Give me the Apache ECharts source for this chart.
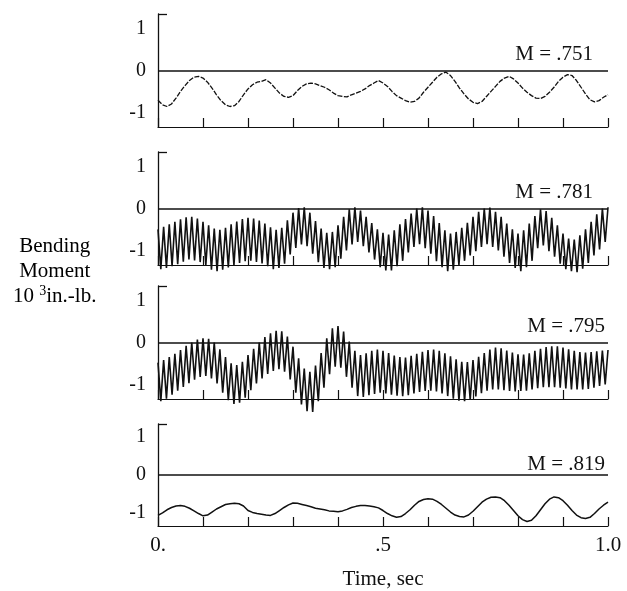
<!DOCTYPE html>
<html>
<head>
<meta charset="utf-8">
<script src="https://cdn.jsdelivr.net/npm/echarts@6/dist/echarts.min.js"></script>
<style>
  html, body { margin: 0; padding: 0; background: #fff; }
  #chart { width: 627px; height: 591px; }
</style>
</head>
<body>
<div id="chart"></div>
<script>
// Mach number of each run, top to bottom
var machLabels = ['M = .751', 'M = .781', 'M = .795', 'M = .819'];

// M = .751, sampled every 0.01 s
var m751 = [-0.71, -0.82, -0.86, -0.80, -0.66, -0.50, -0.36, -0.24, -0.16, -0.14,
    -0.18, -0.28, -0.42, -0.58, -0.72, -0.82, -0.86, -0.84, -0.74, -0.58,
    -0.44, -0.34, -0.28, -0.26, -0.22, -0.30, -0.42, -0.54, -0.62, -0.64,
    -0.60, -0.48, -0.38, -0.32, -0.30, -0.32, -0.36, -0.40, -0.46, -0.54,
    -0.60, -0.62, -0.63, -0.58, -0.54, -0.50, -0.44, -0.36, -0.30, -0.24,
    -0.30, -0.38, -0.50, -0.60, -0.66, -0.72, -0.76, -0.74, -0.66, -0.52,
    -0.40, -0.28, -0.16, -0.08, -0.04, -0.12, -0.26, -0.42, -0.56, -0.68,
    -0.76, -0.79, -0.74, -0.62, -0.50, -0.38, -0.26, -0.18, -0.14, -0.20,
    -0.30, -0.42, -0.52, -0.60, -0.66, -0.67, -0.62, -0.52, -0.40, -0.26,
    -0.16, -0.10, -0.12, -0.24, -0.40, -0.56, -0.70, -0.75, -0.72, -0.64,
    -0.58];

// M = .781, buzz tops (every 1/80 s from 0) and bottoms (halfway between)
var m781Tops = [-0.50, -0.44, -0.38, -0.32, -0.26, -0.21, -0.20, -0.24, -0.32, -0.40,
    -0.48, -0.51, -0.46, -0.38, -0.31, -0.25, -0.22, -0.24, -0.29, -0.36,
    -0.45, -0.51, -0.46, -0.28, -0.10, 0.01, 0.03, -0.10, -0.30, -0.48,
    -0.58, -0.56, -0.40, -0.20, -0.02, 0.03, -0.05, -0.20, -0.35, -0.50,
    -0.58, -0.62, -0.52, -0.38, -0.25, -0.12, 0.00, 0.03, -0.05, -0.18,
    -0.35, -0.52, -0.60, -0.56, -0.46, -0.34, -0.20, -0.08, 0.00, 0.02,
    -0.08, -0.20, -0.36, -0.50, -0.60, -0.52, -0.36, -0.18, -0.02, -0.06,
    -0.22, -0.40, -0.60, -0.72, -0.74, -0.64, -0.50, -0.32, -0.14, 0.00,
    0.03];
var m781Bottoms = [-1.45, -1.42, -1.38, -1.33, -1.27, -1.22, -1.24, -1.28, -1.35, -1.46,
    -1.50, -1.46, -1.41, -1.36, -1.30, -1.26, -1.25, -1.28, -1.31, -1.38,
    -1.45, -1.42, -1.32, -1.10, -0.94, -0.86, -0.90, -1.08, -1.28, -1.42,
    -1.45, -1.40, -1.20, -1.00, -0.86, -0.80, -0.90, -1.05, -1.22, -1.40,
    -1.48, -1.48, -1.38, -1.25, -1.05, -0.92, -0.85, -0.95, -1.08, -1.26,
    -1.40, -1.50, -1.46, -1.35, -1.25, -1.12, -1.02, -0.92, -0.85, -0.92,
    -1.00, -1.15, -1.30, -1.42, -1.50, -1.40, -1.25, -0.95, -0.88, -1.02,
    -1.15, -1.32, -1.45, -1.50, -1.52, -1.44, -1.30, -1.12, -0.98, -0.80];

// M = .795, same sampling as above
var m795Tops = [-0.48, -0.42, -0.35, -0.27, -0.18, -0.08, 0.00, 0.07, 0.10, 0.09,
    0.00, -0.16, -0.35, -0.50, -0.54, -0.46, -0.30, -0.15, 0.00, 0.13,
    0.22, 0.28, 0.27, 0.14, -0.10, -0.38, -0.62, -0.70, -0.55, -0.25,
    0.10, 0.34, 0.39, 0.26, 0.02, -0.20, -0.30, -0.26, -0.20, -0.17,
    -0.20, -0.25, -0.31, -0.35, -0.36, -0.32, -0.27, -0.22, -0.18, -0.17,
    -0.20, -0.26, -0.33, -0.40, -0.46, -0.47, -0.42, -0.34, -0.25, -0.17,
    -0.12, -0.14, -0.19, -0.24, -0.28, -0.29, -0.26, -0.20, -0.15, -0.11,
    -0.09, -0.09, -0.12, -0.16, -0.20, -0.23, -0.24, -0.23, -0.21, -0.19,
    -0.18];
var m795Bottoms = [-1.40, -1.34, -1.25, -1.15, -1.06, -0.97, -0.89, -0.82, -0.80, -0.86,
    -0.98, -1.20, -1.38, -1.47, -1.44, -1.32, -1.14, -0.98, -0.86, -0.75,
    -0.68, -0.64, -0.70, -0.88, -1.20, -1.48, -1.64, -1.66, -1.40, -1.08,
    -0.76, -0.58, -0.60, -0.82, -1.08, -1.28, -1.30, -1.26, -1.23, -1.20,
    -1.22, -1.25, -1.27, -1.28, -1.26, -1.22, -1.18, -1.16, -1.15, -1.17,
    -1.22, -1.28, -1.34, -1.39, -1.40, -1.37, -1.29, -1.21, -1.15, -1.12,
    -1.12, -1.14, -1.16, -1.17, -1.16, -1.15, -1.12, -1.09, -1.07, -1.07,
    -1.07, -1.08, -1.10, -1.12, -1.12, -1.12, -1.11, -1.08, -1.04, -1.00];

// M = .819, sampled every 0.01 s
var m819 = [-1.07, -1.00, -0.92, -0.86, -0.82, -0.81, -0.83, -0.88, -0.95, -1.02,
    -1.08, -1.06, -0.98, -0.90, -0.84, -0.78, -0.76, -0.75, -0.76, -0.82,
    -0.94, -0.99, -1.02, -1.04, -1.06, -1.07, -1.02, -0.94, -0.86, -0.79,
    -0.74, -0.75, -0.78, -0.81, -0.84, -0.88, -0.90, -0.92, -0.95, -0.96,
    -0.97, -0.95, -0.91, -0.86, -0.83, -0.81, -0.81, -0.82, -0.84, -0.87,
    -0.94, -1.02, -1.08, -1.12, -1.10, -1.02, -0.92, -0.80, -0.70, -0.65,
    -0.63, -0.64, -0.70, -0.78, -0.88, -0.98, -1.06, -1.10, -1.11, -1.06,
    -0.96, -0.84, -0.72, -0.64, -0.59, -0.58, -0.60, -0.68, -0.80, -0.94,
    -1.08, -1.18, -1.23, -1.20, -1.08, -0.92, -0.76, -0.64, -0.58, -0.60,
    -0.68, -0.80, -0.94, -1.06, -1.13, -1.15, -1.12, -1.02, -0.90, -0.80,
    -0.72];

var yLabels = [-1, 0, 1];
var xLabels = { 0: '0.', 0.5: '.5', 1: '1.0' };

var FONT = 'Liberation Serif';
var INK = '#111';
var yMax = 1.35;

function even(values, dt) {
    return values.map(function (v, i) { return [+(i * dt).toFixed(4), v]; });
}
// interleave spike tops and bottoms of the buzz
function buzz(tops, bottoms) {
    var n = bottoms.length, out = [];
    for (let k = 0; k < tops.length; k++) {
        out.push([k / n, tops[k]]);
        if (k < n) out.push([(k + 0.5) / n, bottoms[k]]);
    }
    return out;
}

var panels = [
    { data: even(m751, 0.01), width: 1.3, dash: [5, 1.5], labelRight: 34 },
    { data: buzz(m781Tops, m781Bottoms), width: 1.6, dash: 'solid', labelRight: 34 },
    { data: buzz(m795Tops, m795Bottoms), width: 1.6, dash: 'solid', labelRight: 22 },
    { data: even(m819, 0.01), width: 1.5, dash: 'solid', labelRight: 22 }
];
var gridTops = [14, 152, 286, 424];
var gridH = 113;
var gridLeft = 158, gridRight = 19;

var chartDom = document.getElementById('chart');
var myChart = echarts.init(chartDom);

var grids = [], xAxes = [], yAxes = [], series = [], graphics = [];
panels.forEach(function (p, i) {
    var last = i === panels.length - 1;
    grids.push({ left: gridLeft, right: gridRight, top: gridTops[i], height: gridH, show: false });
    xAxes.push({
        type: 'value', gridIndex: i, min: 0, max: 1, interval: 0.1,
        axisLine: { onZero: false, lineStyle: { color: INK, width: 1.2 } },
        axisTick: { show: true, inside: true, length: 9, lineStyle: { color: INK, width: 1.2 } },
        splitLine: { show: false },
        axisLabel: {
            show: last, customValues: [0, 0.5, 1], margin: 9,
            fontFamily: FONT, fontSize: 21, color: INK,
            formatter: function (v) { return xLabels[v]; }
        },
        name: last ? 'Time, sec' : '',
        nameLocation: 'middle', nameGap: 43,
        nameTextStyle: { fontFamily: FONT, fontSize: 21, color: INK }
    });
    yAxes.push({
        type: 'value', gridIndex: i, min: -yMax, max: yMax,
        axisLine: { show: true, onZero: false, lineStyle: { color: INK, width: 1.3 } },
        axisTick: { show: true, inside: true, length: 9, customValues: [yMax], lineStyle: { color: INK, width: 1.3 } },
        splitLine: { show: false },
        axisLabel: {
            customValues: yLabels, margin: 12,
            fontFamily: FONT, fontSize: 20, color: INK
        }
    });
    series.push({
        type: 'line', xAxisIndex: i, yAxisIndex: i,
        data: p.data, showSymbol: false, clip: false,
        lineStyle: { color: INK, width: p.width, type: p.dash },
        markLine: {
            silent: true, symbol: 'none', label: { show: false },
            lineStyle: { color: INK, width: 1.5, type: 'solid' },
            data: [{ yAxis: 0 }]
        }
    });
    graphics.push({
        type: 'text', right: p.labelRight,
        top: gridTops[i] + gridH / 2 - 27,
        style: { text: machLabels[i], font: '21px "' + FONT + '"', fill: INK }
    });
});

graphics.push({
    type: 'text', left: 13, top: 236,
    style: {
        text: '{n|Bending}\n{n|Moment}\n{n|10 }{s|3}{n|in.-lb.}',
        align: 'center',
        rich: {
            n: { fontFamily: FONT, fontSize: 21, lineHeight: 25, color: INK, align: 'center' },
            s: { fontFamily: FONT, fontSize: 14, lineHeight: 25, color: INK, verticalAlign: 'top' }
        }
    }
});

var option = {
    animation: false,
    backgroundColor: '#fff',
    grid: grids,
    xAxis: xAxes,
    yAxis: yAxes,
    series: series,
    graphic: graphics
};
option && myChart.setOption(option);
</script>
</body>
</html>
